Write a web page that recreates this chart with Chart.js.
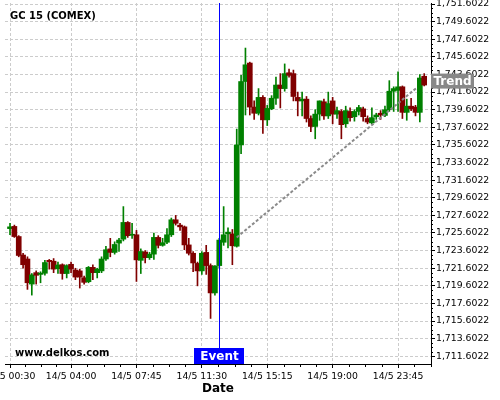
<!DOCTYPE html>
<html><head><meta charset="utf-8">
<script src="https://cdn.jsdelivr.net/npm/chart.js@4"></script>
<style>html,body{margin:0;padding:0;background:#fff}</style>
</head><body>
<canvas id="c" width="500" height="400"></canvas>
<script>
const categories = [
"14/5 00:30","14/5 00:45","14/5 01:00","14/5 01:15","14/5 01:30","14/5 01:45","14/5 02:00","14/5 02:15","14/5 02:30","14/5 02:45",
"14/5 03:00","14/5 03:15","14/5 03:30","14/5 03:45","14/5 04:00","14/5 04:15","14/5 04:30","14/5 04:45","14/5 05:00","14/5 05:15",
"14/5 05:30","14/5 05:45","14/5 06:00","14/5 06:15","14/5 06:30","14/5 06:45","14/5 07:00","14/5 07:15","14/5 07:30","14/5 07:45",
"14/5 08:00","14/5 08:15","14/5 08:30","14/5 08:45","14/5 09:00","14/5 09:15","14/5 09:30","14/5 09:45","14/5 10:00","14/5 10:15",
"14/5 10:30","14/5 10:45","14/5 11:00","14/5 11:15","14/5 11:30","14/5 11:45","14/5 12:00","14/5 12:15","14/5 12:30","14/5 12:45",
"14/5 13:00","14/5 13:15","14/5 13:30","14/5 13:45","14/5 14:00","14/5 14:15","14/5 14:30","14/5 14:45","14/5 15:00","14/5 15:15",
"14/5 15:30","14/5 15:45","14/5 16:00","14/5 16:15","14/5 16:30","14/5 16:45","14/5 17:00","14/5 17:15","14/5 17:30","14/5 17:45",
"14/5 18:00","14/5 18:15","14/5 18:30","14/5 18:45","14/5 19:00","14/5 19:15","14/5 19:30","14/5 19:45","14/5 20:00","14/5 20:15",
"14/5 20:30","14/5 20:45","14/5 22:00","14/5 22:15","14/5 22:30","14/5 22:45","14/5 23:00","14/5 23:15","14/5 23:30","14/5 23:45",
"15/5 00:00","15/5 00:15","15/5 00:30","15/5 00:45","15/5 01:00","15/5 01:15"];
const opens = [
1726.1,1726.35,1725.2,1723.1,1722.65,1719.8,1721.1,1720.9,1721.03,1722.5,
1722.4,1721.55,1722.0,1721.0,1722.05,1721.4,1721.3,1720.52,1720.07,1721.7,
1721.1,1721.3,1722.65,1723.8,1723.4,1724.45,1724.9,1726.8,1725.35,1725.4,
1722.5,1723.45,1722.8,1723.2,1725.1,1724.2,1724.55,1725.4,1727.1,1726.5,
1726.3,1724.25,1723.3,1722.15,1721.3,1723.4,1721.9,1718.8,1721.9,1724.55,
1725.5,1725.5,1724.1,1735.6,1742.8,1744.9,1739.9,1739.2,1741.0,1738.45,
1739.7,1740.9,1742.4,1742.0,1743.8,1743.7,1741.0,1740.6,1740.8,1738.6,
1737.7,1739.1,1740.5,1738.9,1740.6,1739.1,1739.4,1738.0,1739.4,1738.8,
1739.4,1739.7,1738.6,1738.1,1738.8,1739.2,1738.95,1739.6,1741.7,1741.8,
1742.2,1739.3,1740.0,1739.9,1739.3,1743.4];
const highs = [
1726.7,1726.5,1725.3,1723.3,1722.9,1721.0,1721.3,1721.2,1722.5,1722.6,
1722.7,1722.3,1722.1,1722.0,1722.3,1721.6,1721.5,1720.7,1721.8,1722.0,
1721.6,1722.9,1724.1,1725.0,1724.6,1725.0,1728.6,1726.9,1726.7,1725.9,
1723.8,1723.6,1723.4,1725.6,1725.3,1725.0,1726.1,1727.3,1727.6,1726.7,
1726.4,1725.0,1723.5,1722.3,1723.5,1724.2,1722.1,1721.9,1725.0,1728.6,
1726.2,1726.0,1737.4,1743.5,1746.6,1745.0,1740.6,1742.0,1741.2,1740.1,
1741.2,1743.3,1743.7,1744.8,1744.2,1744.1,1741.6,1741.6,1741.1,1738.9,
1739.6,1740.6,1740.8,1741.6,1741.0,1739.9,1739.6,1740.0,1739.8,1739.6,
1740.1,1739.9,1738.9,1739.8,1739.2,1739.5,1740.0,1742.9,1742.2,1743.9,
1742.3,1740.8,1740.9,1740.1,1743.6,1743.7];
const lows = [
1725.4,1725.1,1722.9,1721.6,1719.2,1718.55,1719.8,1719.95,1720.8,1721.5,
1721.1,1721.0,1720.35,1720.5,1721.1,1720.3,1719.35,1719.8,1719.95,1720.3,
1720.5,1721.1,1722.5,1722.9,1723.2,1723.5,1724.7,1725.1,1725.0,1720.1,
1721.0,1722.2,1722.6,1722.6,1723.9,1724.1,1724.4,1725.2,1726.5,1725.9,
1723.7,1723.1,1721.2,1719.6,1720.9,1720.9,1715.9,1718.55,1721.6,1724.2,
1723.9,1722.0,1724.0,1734.6,1739.0,1739.0,1738.5,1739.0,1736.9,1737.8,
1739.6,1740.2,1739.8,1741.7,1743.3,1740.6,1738.9,1738.9,1738.2,1737.1,
1736.3,1738.4,1738.5,1738.6,1738.0,1738.6,1736.3,1737.6,1738.3,1738.3,
1739.0,1738.3,1738.0,1738.0,1738.5,1738.5,1738.8,1739.4,1739.4,1739.4,
1738.6,1738.4,1739.5,1738.9,1738.2,1742.3];
const closes = [
1726.3,1725.2,1723.05,1722.0,1719.95,1720.85,1720.8,1721.05,1722.25,1722.35,
1721.5,1721.97,1721.0,1721.9,1721.5,1720.6,1720.6,1720.0,1721.7,1721.1,
1721.5,1722.65,1723.7,1723.4,1724.3,1724.8,1726.8,1725.3,1725.45,1722.55,
1723.5,1722.8,1723.2,1725.1,1724.2,1724.5,1725.4,1727.1,1726.7,1726.3,
1724.25,1723.3,1722.2,1721.3,1723.3,1721.9,1718.8,1721.85,1724.8,1725.4,
1725.7,1724.15,1735.6,1742.8,1744.7,1739.9,1739.2,1741.0,1738.45,1739.75,
1740.9,1742.4,1742.0,1743.7,1743.5,1741.1,1740.6,1740.8,1738.6,1737.7,
1739.1,1740.6,1738.9,1740.3,1739.1,1739.5,1737.9,1739.5,1738.7,1739.4,
1739.85,1738.8,1738.2,1738.7,1739.0,1739.0,1739.6,1741.7,1742.0,1742.2,
1739.3,1740.0,1739.7,1739.3,1743.2,1742.4];
const xTickIndex = [0,14,29,44,59,74,89];
const xMinorIndex = [3.5,7,10.5,17.75,21.5,25.25,32.75,36.5,40.25,47.75,51.5,55.25,62.75,66.5,70.25,77.75,81.5,85.25,92.75,96.5];
const yTicks = [1711.6022,1713.6022,1715.6022,1717.6022,1719.6022,1721.6022,1723.6022,1725.6022,1727.6022,1729.6022,
1731.6022,1733.6022,1735.6022,1737.6022,1739.6022,1741.6022,1743.6022,1745.6022,1747.6022,1749.6022,1751.6022];
const trendX = [52, 93.3];
const trendY = [1725.1, 1742.1];
const trendLabelValue = 1742.85;
const eventIndex = 48;

const GREEN = '#008000', RED = '#800000';
const candleColors = closes.map((c, i) => c > opens[i] ? GREEN : RED);
const yMinor = [];
for (let k = 0; k < yTicks.length - 1; k++) for (let j = 1; j < 4; j++) yMinor.push(yTicks[k] + j * 0.5);

Chart.defaults.font.family = '"DejaVu Sans"';
Chart.defaults.color = '#000';

const overlay = {
  id: 'overlay',
  afterDraw(chart) {
    const {ctx, chartArea: a, scales: {x, y}} = chart;
    ctx.save();
    ctx.strokeStyle = '#000'; ctx.lineWidth = 1;
    ctx.beginPath();
    xMinorIndex.forEach(v => { const px = Math.round(x.getPixelForValue(v)) + 0.5; ctx.moveTo(px, a.bottom); ctx.lineTo(px, a.bottom + 3); });
    yMinor.forEach(v => { const py = Math.round(y.getPixelForValue(v)) + 0.5; ctx.moveTo(a.right, py); ctx.lineTo(a.right + 2, py); });
    ctx.stroke();
    const ex = Math.round(x.getPixelForValue(eventIndex)) + 0.5;
    ctx.strokeStyle = '#0000ff';
    ctx.beginPath(); ctx.moveTo(ex, a.top); ctx.lineTo(ex, a.bottom - 16); ctx.stroke();
    ctx.fillStyle = '#0000ff'; ctx.fillRect(ex - 25.5, a.bottom - 16, 50, 16);
    ctx.fillStyle = '#fff'; ctx.font = 'bold 12px "DejaVu Sans"';
    ctx.textAlign = 'center'; ctx.textBaseline = 'middle';
    ctx.fillText('Event', ex, a.bottom - 7.5);
    const ty = y.getPixelForValue(trendLabelValue);
    ctx.fillStyle = '#888888'; ctx.fillRect(a.right, ty - 7.5, 43, 15);
    ctx.fillStyle = '#fff'; ctx.fillText('Trend', a.right + 21.5, ty + 0.5);
    ctx.fillStyle = '#000'; ctx.textAlign = 'left'; ctx.font = 'bold 10px "DejaVu Sans"';
    ctx.fillText('GC 15 (COMEX)', a.left + 5, 16);
    ctx.fillText('www.delkos.com', a.left + 10, a.bottom - 11);
    ctx.restore();
  }
};

new Chart(document.getElementById('c'), {
  type: 'bar',
  data: {
    datasets: [
      { type: 'line', data: trendX.map((v, i) => ({x: v, y: trendY[i]})), borderColor: '#8a8a8a', borderWidth: 2, borderDash: [3, 2], pointRadius: 0, order: 0 },
      { data: opens.map((o, i) => ({x: i, y: [o, closes[i]]})), backgroundColor: candleColors, barThickness: 5, minBarLength: 1, grouped: false, order: 1 },
      { data: lows.map((l, i) => ({x: i, y: [l, highs[i]]})), backgroundColor: candleColors, barThickness: 1, grouped: false, order: 2 }
    ]
  },
  options: {
    responsive: false,
    animation: false,
    devicePixelRatio: 1,
    layout: { padding: { left: 5, top: 3, right: 0, bottom: 0 } },
    plugins: { legend: { display: false }, tooltip: { enabled: false } },
    scales: {
      x: {
        type: 'linear', min: -1.15, max: 96.56, offset: false,
        afterBuildTicks: s => { s.ticks = xTickIndex.map(v => ({value: v})); },
        afterFit: s => { s.height = 36; s.paddingLeft = 0; s.paddingRight = 0; },
        ticks: { autoSkip: false, maxRotation: 0, padding: 3, font: { size: 9.3 }, color: '#000', callback: v => categories[v] },
        grid: { offset: false, color: '#cccccc', tickColor: '#000', tickLength: 4 },
        border: { color: '#000', dash: [3, 2] },
        title: { display: true, text: 'Date', font: { size: 12, weight: 'bold' }, color: '#000', padding: { top: 0, bottom: 4 } }
      },
      y: {
        type: 'linear', position: 'right', min: 1710.728, max: 1751.716,
        afterBuildTicks: s => { s.ticks = yTicks.map(v => ({value: v})); },
        afterFit: s => { s.width = 69; s.paddingTop = 0; s.paddingBottom = 0; },
        ticks: { autoSkip: false, padding: 1, font: { size: 9.3 }, color: '#000',
          callback: v => v.toLocaleString('en-US', {minimumFractionDigits: 4, maximumFractionDigits: 4}) },
        grid: { color: '#cccccc', tickColor: '#000', tickLength: 4 },
        border: { color: '#000', dash: [3, 2] }
      }
    }
  },
  plugins: [overlay]
});
</script>
</body></html>
